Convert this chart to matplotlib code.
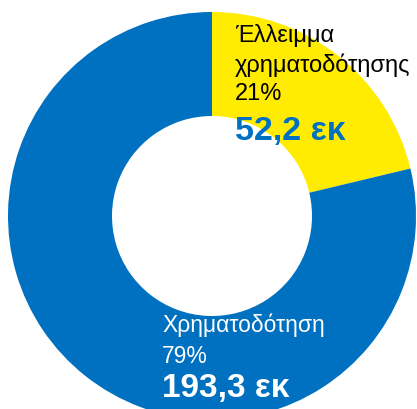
import matplotlib
matplotlib.use('Agg')
import matplotlib.pyplot as plt

plt.rcParams['font.family'] = ['Liberation Sans', 'DejaVu Sans']

# Data
labels = ['Έλλειμμα χρηματοδότησης', 'Χρηματοδότηση']
amounts = [52.2, 193.3]
percents = ['21%', '79%']
colors = ['#FFEC00', '#0070C0']

W, H = 417, 409
fig = plt.figure(figsize=(W / 100, H / 100), dpi=100)
ax = fig.add_axes([0, 0, 1, 1])
ax.set_xlim(0, W)
ax.set_ylim(0, H)
ax.set_aspect('equal')
ax.axis('off')

ax.pie(amounts, colors=colors, startangle=90, counterclock=False,
       center=(212, H - 216), radius=204,
       wedgeprops=dict(width=104, linewidth=0))
ax.set_xlim(0, W)
ax.set_ylim(0, H)


def put(x, y, s, **kw):
    # y given in pixels from the top
    ax.text(x, H - y, s, ha='left', va='baseline', **kw)


put(235, 42, 'Έλλειμμα', fontsize=17, color='black')
put(235, 72, 'χρηματοδότησης', fontsize=17, color='black')
put(235, 100, percents[0], fontsize=17, color='black')
put(235, 140, f'{amounts[0]:.1f} εκ'.replace('.', ','), fontsize=24.5,
    fontweight='bold', color=colors[1])

put(162, 332, labels[1], fontsize=16.5, color='white')
put(162, 363, percents[1], fontsize=16.5, color='white')
put(162, 397, f'{amounts[1]:.1f} εκ'.replace('.', ','), fontsize=24,
    fontweight='bold', color='white')

fig.savefig('out.png', dpi=100)
